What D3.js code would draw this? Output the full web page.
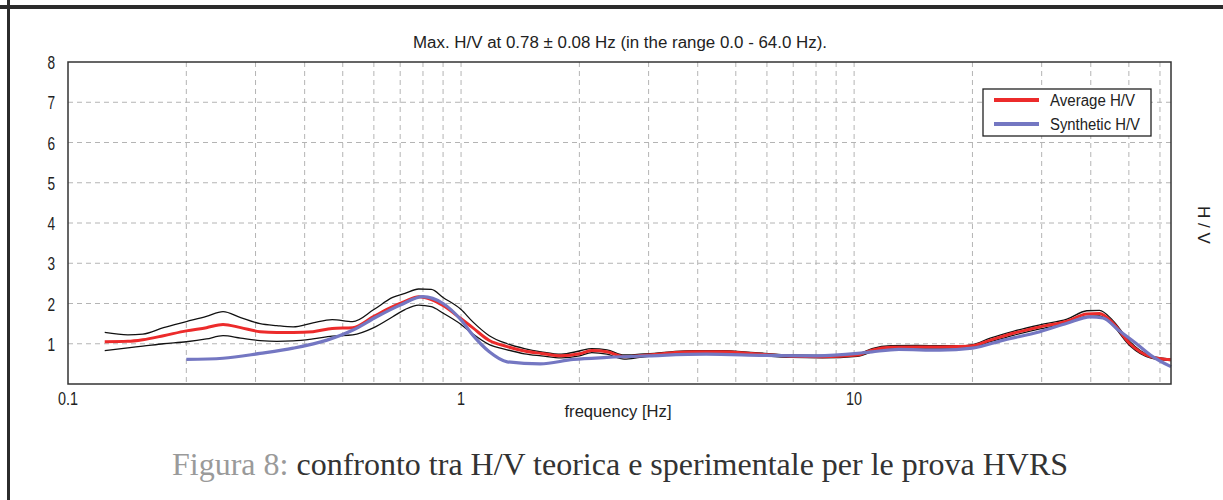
<!DOCTYPE html>
<html>
<head>
<meta charset="utf-8">
<script src="https://cdn.jsdelivr.net/npm/d3@7"></script>
<style>
  body { margin: 0; background: #fff; }
  text { font-family: "Liberation Sans", Arial, sans-serif; }
  text.caption { font-family: "Liberation Serif", "Times New Roman", serif; }
</style>
</head>
<body>
<div id="chartContainer"></div>
<script>
// frequencies (Hz) shared by the average curve and its +/- std curves
const freqs = [0.124, 0.142, 0.155, 0.175, 0.2, 0.225, 0.248, 0.275, 0.308, 0.34, 0.374, 0.42, 0.47, 0.53,
  0.6, 0.67, 0.72, 0.78, 0.84, 0.9, 1.0, 1.07, 1.18, 1.31, 1.45, 1.6, 1.8, 2.0, 2.15, 2.35, 2.6, 2.85,
  3.1, 3.5, 3.9, 4.6, 5.6, 6.9, 8.3, 10.2, 11.1, 12.4, 14.5, 16.5, 18.5, 20.0, 22.2, 25.4, 29.7, 34.8,
  39.1, 42.1, 45.5, 50.3, 56.7, 64];

const averageHV = [1.05, 1.06, 1.10, 1.20, 1.32, 1.40, 1.48, 1.40, 1.30, 1.28, 1.28, 1.30, 1.38, 1.40,
  1.68, 1.92, 2.05, 2.17, 2.10, 1.95, 1.62, 1.40, 1.08, 0.93, 0.82, 0.76, 0.70, 0.75, 0.83, 0.80, 0.68, 0.70,
  0.73, 0.78, 0.80, 0.80, 0.75, 0.69, 0.68, 0.72, 0.84, 0.91, 0.92, 0.92, 0.93, 0.95, 1.09, 1.26, 1.42, 1.56,
  1.74, 1.75, 1.52, 1.00, 0.68, 0.60];

const upperHV = [1.28, 1.22, 1.24, 1.40, 1.55, 1.68, 1.80, 1.65, 1.50, 1.45, 1.42, 1.52, 1.60, 1.55,
  1.85, 2.15, 2.25, 2.36, 2.35, 2.15, 1.85, 1.55, 1.20, 1.00, 0.88, 0.80, 0.74, 0.82, 0.88, 0.85, 0.72, 0.74,
  0.76, 0.81, 0.83, 0.83, 0.78, 0.72, 0.71, 0.75, 0.88, 0.95, 0.96, 0.95, 0.95, 0.98, 1.14, 1.31, 1.47, 1.61,
  1.82, 1.83, 1.58, 1.05, 0.70, 0.62];

const lowerHV = [0.83, 0.90, 0.94, 1.00, 1.05, 1.12, 1.20, 1.14, 1.08, 1.06, 1.07, 1.12, 1.19, 1.22,
  1.40, 1.67, 1.85, 1.96, 1.92, 1.76, 1.48, 1.25, 0.98, 0.85, 0.75, 0.70, 0.65, 0.70, 0.78, 0.74, 0.62, 0.66,
  0.70, 0.75, 0.77, 0.77, 0.72, 0.66, 0.65, 0.69, 0.80, 0.88, 0.89, 0.89, 0.90, 0.92, 1.05, 1.21, 1.37, 1.51,
  1.68, 1.69, 1.46, 0.95, 0.65, 0.58];

// synthetic curve
const synFreqs = [0.2, 0.248, 0.308, 0.374, 0.456, 0.531, 0.61, 0.70, 0.80, 0.9, 1.0, 1.07, 1.18, 1.31,
  1.59, 1.93, 2.35, 3.0, 4.2, 6.0, 8.0, 10.2, 11.1, 13.0, 16.5, 20.0, 24.0, 29.7, 34.8, 39.9, 43.0, 47.0,
  52.0, 57.5, 64];
const syntheticHV = [0.61, 0.64, 0.76, 0.89, 1.09, 1.34, 1.67, 1.96, 2.17, 2.0, 1.59, 1.22, 0.80, 0.55,
  0.50, 0.61, 0.66, 0.70, 0.74, 0.71, 0.70, 0.76, 0.80, 0.86, 0.84, 0.89, 1.09, 1.30, 1.51, 1.67, 1.64, 1.34,
  1.02, 0.68, 0.43];

const xTickLabels = [0.1, 1, 10];
const yTickLabels = [1, 2, 3, 4, 5, 6, 7, 8];
const legendItems = ["Average H/V", "Synthetic H/V"];

const W = 1223, H = 500;
const margin = { top: 62, right: 52, bottom: 116, left: 68 };

const svg = d3.select("#chartContainer")
  .append("svg")
  .attr("width", W)
  .attr("height", H);

svg.append("rect").attr("width", W).attr("height", H).attr("fill", "#fff");

// page frame
svg.append("line").attr("x1", 0).attr("x2", W).attr("y1", 7).attr("y2", 7)
  .attr("stroke", "#2b2b2b").attr("stroke-width", 4);
svg.append("line").attr("x1", 8.5).attr("x2", 8.5).attr("y1", 0).attr("y2", H)
  .attr("stroke", "#2b2b2b").attr("stroke-width", 3);

const x = d3.scaleLog().domain([0.1, 64]).range([margin.left, W - margin.right]);
const y = d3.scaleLinear().domain([0, 8]).range([H - margin.bottom, margin.top]);

// grid
const grid = svg.append("g");
grid.selectAll(".vg")
  .data(x.ticks().filter(d => d > 0.1 && d < 64))
  .enter().append("line")
  .attr("x1", d => x(d)).attr("x2", d => x(d))
  .attr("y1", y(8)).attr("y2", y(0))
  .attr("stroke", "#b4b4b4").attr("stroke-dasharray", "5,4");
grid.selectAll(".hg")
  .data(yTickLabels.filter(d => d < 8))
  .enter().append("line")
  .attr("x1", x(0.1)).attr("x2", x(64))
  .attr("y1", d => y(d)).attr("y2", d => y(d))
  .attr("stroke", "#b4b4b4").attr("stroke-dasharray", "5,4");

// condensed text helper
function ctext(g, tx, ty, str, size, sx, anchor) {
  return g.append("text")
    .attr("transform", `translate(${tx},${ty}) scale(${sx},1)`)
    .attr("text-anchor", anchor || "middle")
    .attr("font-size", size)
    .attr("fill", "#222")
    .text(str);
}

// y labels
yTickLabels.forEach(v => {
  ctext(svg, 55, y(v) + 7, v, 19, 0.72, "end");
});
// x labels
xTickLabels.forEach(v => {
  ctext(svg, x(v), 405, v, 18, 0.8, "middle");
});

const line = d3.line()
  .x(d => x(d[0]))
  .y(d => y(d[1]))
  .curve(d3.curveMonotoneX);

const plot = svg.append("g");
[upperHV, lowerHV].forEach(vals => {
  plot.append("path")
    .datum(freqs.map((f, i) => [f, vals[i]]))
    .attr("d", line)
    .attr("fill", "none")
    .attr("stroke", "#111")
    .attr("stroke-width", 1.3);
});
plot.append("path")
  .datum(freqs.map((f, i) => [f, averageHV[i]]))
  .attr("d", line)
  .attr("fill", "none")
  .attr("stroke", "#ec2b2b")
  .attr("stroke-width", 3);
plot.append("path")
  .datum(synFreqs.map((f, i) => [f, syntheticHV[i]]))
  .attr("d", line)
  .attr("fill", "none")
  .attr("stroke", "#7477c2")
  .attr("stroke-width", 3.2);

// plot border
svg.append("rect")
  .attr("x", x(0.1)).attr("y", y(8))
  .attr("width", x(64) - x(0.1)).attr("height", y(0) - y(8))
  .attr("fill", "none").attr("stroke", "#333").attr("stroke-width", 1.5);

// title
svg.append("text")
  .attr("x", 620).attr("y", 48)
  .attr("text-anchor", "middle")
  .attr("font-size", 16)
  .attr("textLength", 414)
  .attr("lengthAdjust", "spacingAndGlyphs")
  .attr("fill", "#222")
  .text("Max. H/V at 0.78 \u00b1 0.08 Hz (in the range 0.0 - 64.0 Hz).");

// x axis title
svg.append("text")
  .attr("x", 618).attr("y", 417)
  .attr("text-anchor", "middle")
  .attr("font-size", 16)
  .attr("textLength", 107)
  .attr("lengthAdjust", "spacingAndGlyphs")
  .attr("fill", "#222")
  .text("frequency [Hz]");

// y axis title (rotated)
svg.append("text")
  .attr("transform", "translate(1198,225) rotate(90)")
  .attr("text-anchor", "middle")
  .attr("font-size", 17)
  .attr("fill", "#222")
  .text("H / V");

// legend
const legend = svg.append("g").attr("transform", "translate(983,89)");
legend.append("rect").attr("width", 168).attr("height", 47)
  .attr("fill", "#fff").attr("stroke", "#222").attr("stroke-width", 1.3);
const legendColors = ["#ec2b2b", "#7477c2"];
legendItems.forEach((name, i) => {
  legend.append("line")
    .attr("x1", 11).attr("x2", 56)
    .attr("y1", 11 + i * 24).attr("y2", 11 + i * 24)
    .attr("stroke", legendColors[i]).attr("stroke-width", 4);
  legend.append("text")
    .attr("x", 67).attr("y", 17 + i * 24)
    .attr("font-size", 16)
    .attr("textLength", i === 0 ? 85 : 90)
    .attr("lengthAdjust", "spacingAndGlyphs")
    .attr("fill", "#222")
    .text(name);
});

// caption
const cap = svg.append("text")
  .attr("class", "caption")
  .attr("x", 620).attr("y", 475)
  .attr("text-anchor", "middle")
  .attr("font-size", 32)
  .attr("fill", "#333");
cap.append("tspan").attr("fill", "#9a9a9a").text("Figura 8: ");
cap.append("tspan").text("confronto tra H/V teorica e sperimentale per le prova HVRS");
</script>
</body>
</html>
